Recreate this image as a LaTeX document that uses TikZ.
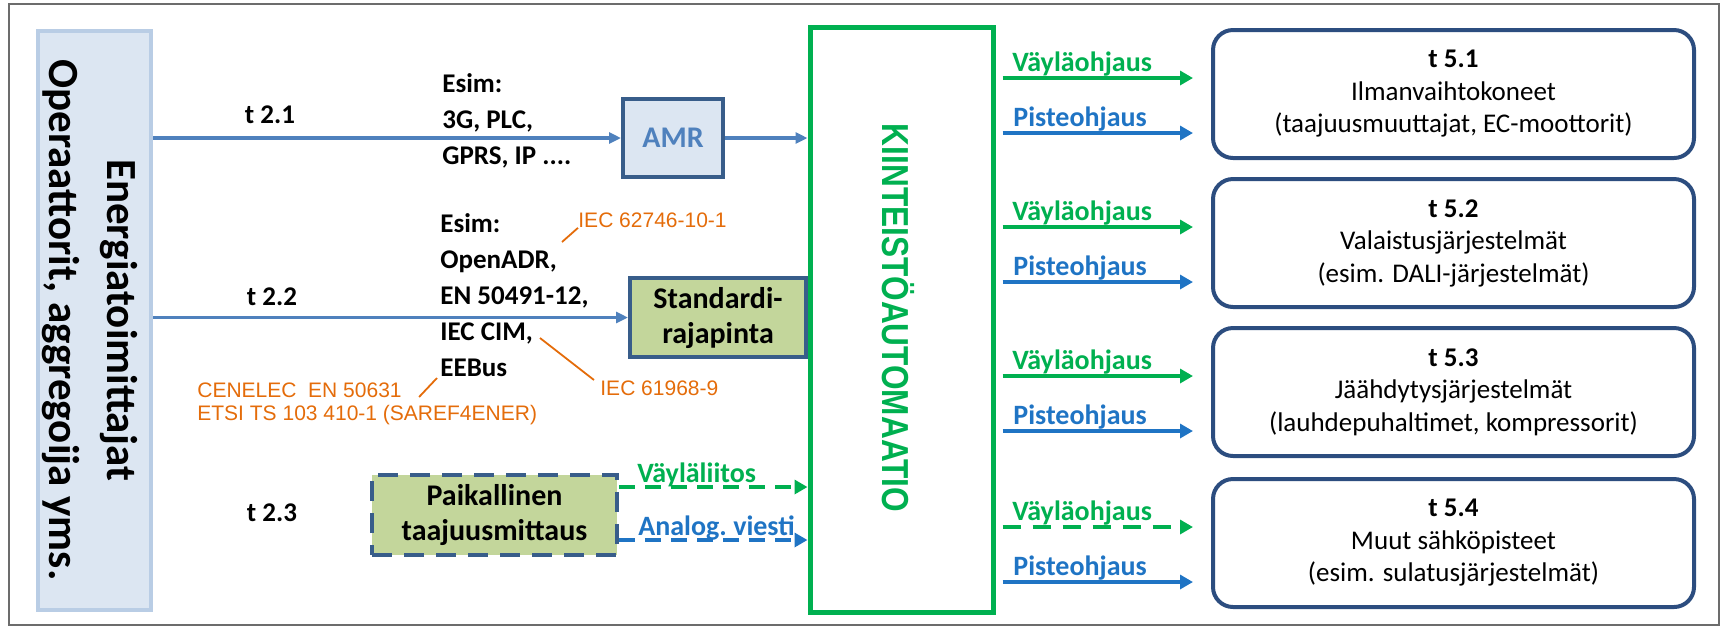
\documentclass[tikz,border=0pt]{standalone}
\usepackage{fontspec}
\setmainfont{Carlito}
\newfontfamily\arialfont{Liberation Sans}
\newfontfamily\narrowfont{Liberation Sans}[FakeStretch=0.84]
\usetikzlibrary{positioning, calc, arrows.meta}

\definecolor{srcfill}{HTML}{DCE6F2}
\definecolor{srcedge}{HTML}{B9CDE5}
\definecolor{boxedge}{HTML}{385D8A}
\definecolor{sysedge}{HTML}{2C4D7F}
\definecolor{feedblue}{HTML}{4F81BD}
\definecolor{ctrlblue}{HTML}{1F74C4}
\definecolor{busgreen}{HTML}{00B050}
\definecolor{stdgreen}{HTML}{C3D69B}
\definecolor{stdorange}{HTML}{E46C0A}

\tikzset{
  lab/.style={font=\fontsize{13.5}{18}\selectfont\bfseries, align=left, inner sep=0pt},
  boxlab/.style={font=\fontsize{15}{17.5}\selectfont\bfseries, align=center, line width=2pt, draw=boxedge},
  feed/.style={draw=feedblue, line width=1.7pt, -{Triangle[length=6pt,width=5.5pt]}},
  bus/.style={draw=busgreen, line width=2pt, -{Triangle[length=6.5pt,width=7pt]}},
  point/.style={draw=ctrlblue, line width=2pt, -{Triangle[length=6.5pt,width=7pt]}},
  dashbus/.style={dash pattern=on 9pt off 6pt},
  buslab/.style={font=\fontsize{14}{16}\selectfont\bfseries, text=busgreen, anchor=base west, inner sep=0pt},
  pointlab/.style={font=\fontsize{14}{16}\selectfont\bfseries, text=ctrlblue, anchor=base west, inner sep=0pt},
  note/.style={draw=stdorange, line width=0.9pt},
  notelab/.style={font=\arialfont\fontsize{10.5}{12.5}\selectfont, text=stdorange, inner sep=0pt},
  sysbox/.style={draw=sysedge, line width=2pt, rounded corners=10pt, fill=white, minimum width=240.5pt, minimum height=64pt, align=center, font=\fontsize{13.5}{16.25}\selectfont},
}

\begin{document}
\begin{tikzpicture}[x=0.5pt, y=-0.5pt]

\useasboundingbox (0,0) rectangle (1725,629);
\draw[gray!85!black, line width=1.2pt] (9,4) rectangle (1719,625);

% Sources on the left
\node[draw=srcedge, fill=srcfill, line width=2pt, minimum width=56.5pt, minimum height=289.5pt] (src) at (94.5,320.5) {};
\node[rotate=-90, font=\fontsize{21.5}{29}\selectfont\bfseries, align=center] (srctext) at (90,320) {Energiatoimittajat\\Operaattorit, aggregoija yms.};

% Building automation
\node[draw=busgreen, line width=2.5pt, fill=white, minimum width=91.5pt, minimum height=292.5pt] (bas) at (901.5,319.5) {};
\node[rotate=-90, text=busgreen, font=\narrowfont\bfseries\fontsize{18.8}{22}\selectfont] (bastext) at (898,318) {KIINTEISTÖAUTOMAATIO};

% Row t 2.1
\node[boxlab, fill=srcfill, text=feedblue, minimum width=50pt, minimum height=39pt] (amr) at (673,138) {AMR};
\node[lab] (t21) at (270,115) {t 2.1};
\node[lab, anchor=west] (ex21) at (442,121) {Esim:\\3G, PLC,\\GPRS, IP ....};
\draw[feed] (src.east |- amr.west) -- (amr.west);
\draw[feed] (amr.east) -- (amr.east -| bas.west);

% Row t 2.2
\node[boxlab, fill=stdgreen, minimum width=88pt, minimum height=39.5pt] (std) at (718,317.5) {Standardi-\\rajapinta};
\node[lab] (t22) at (272,297) {t 2.2};
\node[lab, anchor=west] (ex22) at (440,295) {Esim:\\OpenADR,\\EN 50491-12,\\IEC CIM,\\EEBus};
\draw[feed] (src.east |- std.west) -- (std.west);

% Standards
\node[notelab, anchor=west] (iec1) at (578,220) {IEC 62746-10-1};
\coordinate (adr) at (562,242);
\draw[note] (adr) -- (iec1.south west);
\node[notelab, anchor=north west] (iec2) at (600,380) {IEC 61968-9};
\coordinate (cim) at (540,338);
\draw[note] (cim) -- ([xshift=-3pt]iec2.north west);
\node[notelab, anchor=west] (cen1) at (197,390) {CENELEC\ \ EN 50631};
\node[notelab, anchor=west] (cen2) at (197,415) {ETSI TS 103 410-1 (SAREF4ENER)};
\coordinate (eeb) at (437,378);
\draw[note] (eeb) -- ([xshift=8.5pt, yshift=-3.5pt]cen1.east);

% Row t 2.3
\node[lab] (t23) at (272,513) {t 2.3};
\node[boxlab, fill=stdgreen, dash pattern=on 10pt off 6pt, minimum width=122.5pt, minimum height=40pt] (loc) at (494.5,515) {Paikallinen\\taajuusmittaus};
\draw[bus, dash pattern=on 8pt off 5pt] ([yshift=14pt]loc.east) -- ([yshift=14pt]loc.east -| bas.west);
\draw[point, dash pattern=on 8pt off 5pt] ([yshift=-12.5pt]loc.east) -- ([yshift=-12.5pt]loc.east -| bas.west);
\node[buslab] (vl) at (637,482) {Väyläliitos};
\node[pointlab] (av) at (638,535) {Analog.\ viesti};

% Controlled systems
\foreach \i/\cy/\pat/\sysname/\sysdesc in {
    1/94/solid/Ilmanvaihtokoneet/{(taajuusmuuttajat, EC-moottorit)},
    2/243/solid/Valaistusjärjestelmät/{(esim. DALI-järjestelmät)},
    3/392/solid/Jäähdytysjärjestelmät/{(lauhdepuhaltimet, kompressorit)},
    4/543/dashbus/Muut sähköpisteet/{(esim. sulatusjärjestelmät)}} {
  \node[sysbox] (sys\i) at (1453.5,\cy) {\textbf{t 5.\i}\\\sysname\\\sysdesc};
  \coordinate (bus\i) at (1000,\cy-16);
  \coordinate (pnt\i) at (1000,\cy+39);
  \draw[bus, \pat, shorten <=3.5pt, shorten >=9pt] (bas.east |- bus\i) -- (sys\i.west |- bus\i);
  \draw[point, shorten <=3.5pt, shorten >=9pt] (bas.east |- pnt\i) -- (sys\i.west |- pnt\i);
  \node[buslab] (bl\i) at (1012,\cy-23) {Väyläohjaus};
  \node[pointlab] (pl\i) at (1013,\cy+32) {Pisteohjaus};
}

\end{tikzpicture}
\end{document}
